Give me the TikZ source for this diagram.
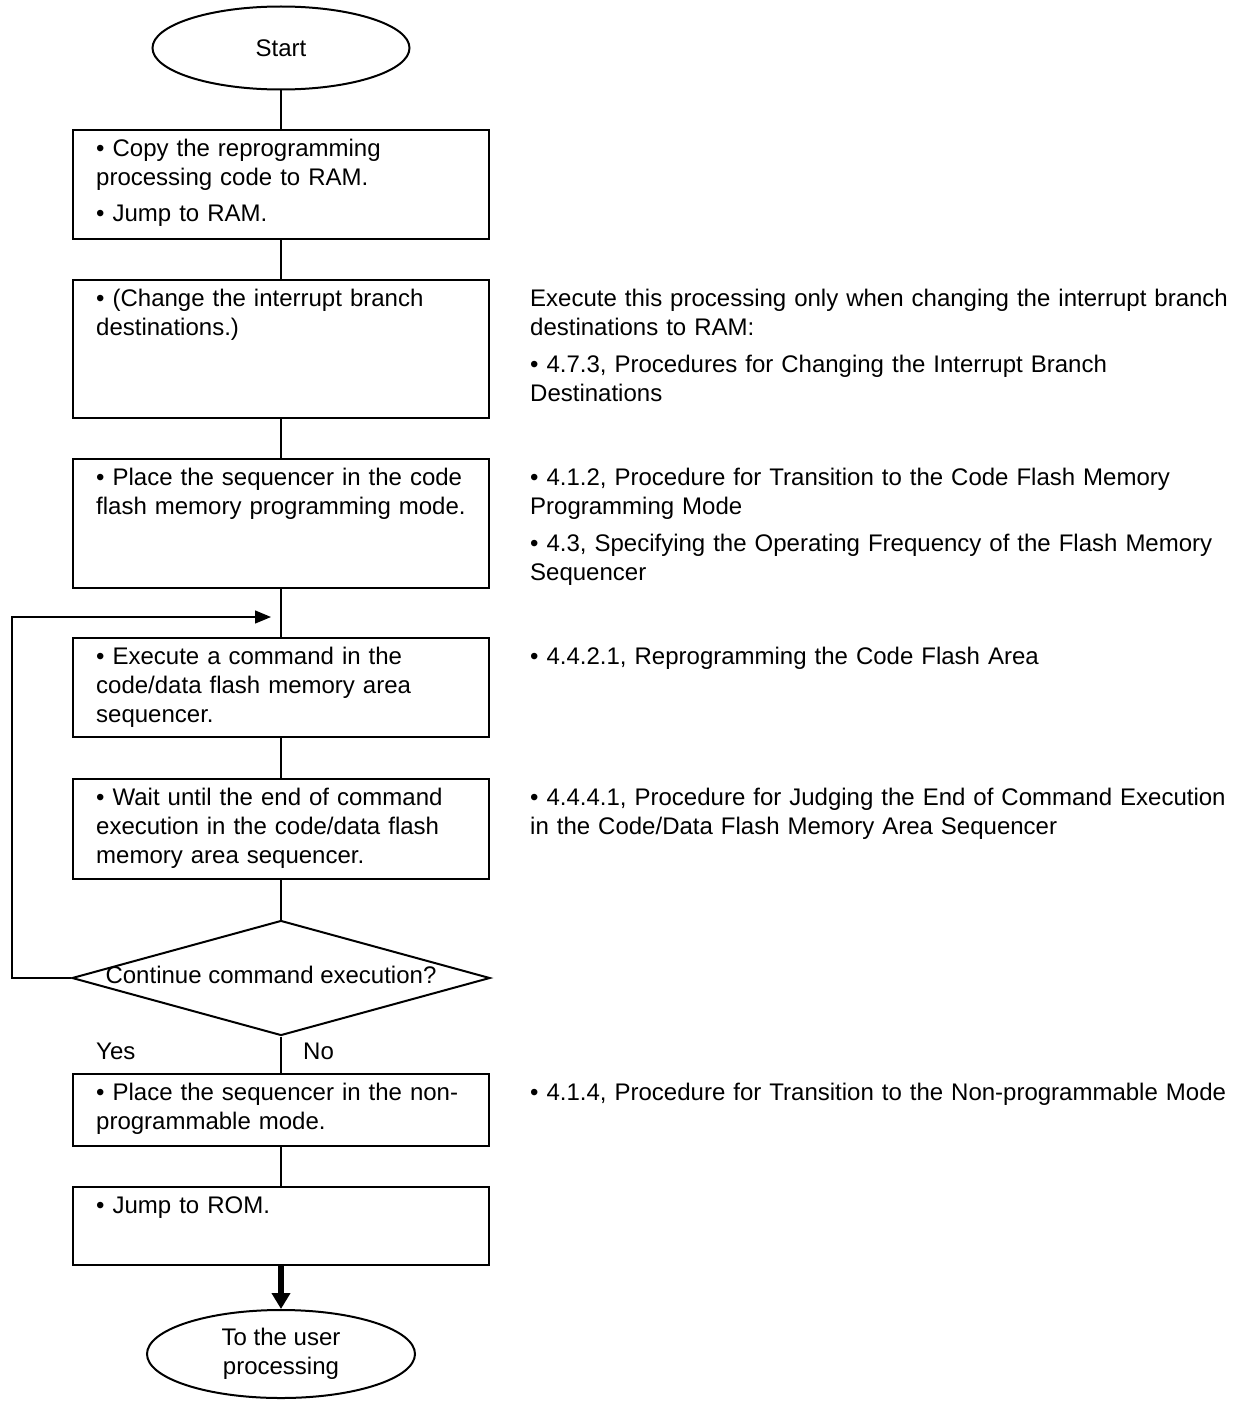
\documentclass[tikz,border=0pt]{standalone}
\usepackage{fontspec}
\setmainfont{Liberation Sans}
\usetikzlibrary{shapes.geometric,arrows.meta}
\begin{document}
\begin{tikzpicture}[x=1pt,y=-1pt,
  every node/.style={font=\fontsize{24}{29}\selectfont},
  stepbox/.style={draw,line width=2pt,rectangle,minimum width=416pt,inner sep=0pt,anchor=north},
  boxtext/.style={anchor=north west,inner sep=0pt,text width=395pt,align=left},
  note/.style={anchor=north west,inner sep=0pt,text width=705pt,align=left},
  terminal/.style={draw,line width=2pt,ellipse,inner sep=0pt,align=center},
  decision/.style={draw,line width=2pt,diamond,inner sep=0pt,minimum width=418pt,minimum height=115pt},
  flow/.style={line width=2pt},
  loopline/.style={line width=1.3pt,-{Triangle[length=16pt,width=13pt]}},
  exitarrow/.style={line width=6pt,-{Triangle[length=16pt,width=18pt]}}]

% page area
\fill[white] (0,0) rectangle (1239,1402);
\useasboundingbox (0,0) rectangle (1239,1402);

% terminals
\node[terminal,minimum width=257pt,minimum height=83pt] (start) at (281,48) {Start};
\node[terminal,minimum width=268pt,minimum height=88pt] (finish) at (281,1354) {To the user\\processing};

% process boxes
\node[stepbox,minimum height=109pt] (b1) at (281,129) {};
\node[stepbox,minimum height=138pt] (b2) at (281,279) {};
\node[stepbox,minimum height=129pt] (b3) at (281,458) {};
\node[stepbox,minimum height=99pt]  (b4) at (281,637) {};
\node[stepbox,minimum height=100pt] (b5) at (281,778) {};
\node[decision] (dec) at (281,978) {};
\node[stepbox,minimum height=72pt]  (b6) at (281,1073) {};
\node[stepbox,minimum height=78pt]  (b7) at (281,1186) {};

% box contents
\node[boxtext] (b1t) at ([xshift=24pt,yshift=-6.7pt]b1.north west)
  {\strut• Copy the reprogramming\\processing code to RAM.\\[7pt]• Jump to RAM.};
\node[boxtext] (b2t) at ([xshift=24pt,yshift=-6.7pt]b2.north west)
  {\strut• (Change the interrupt branch\\destinations.)};
\node[boxtext] (b3t) at ([xshift=24pt,yshift=-6.7pt]b3.north west)
  {\strut• Place the sequencer in the code\\flash memory programming mode.};
\node[boxtext] (b4t) at ([xshift=24pt,yshift=-6.7pt]b4.north west)
  {\strut• Execute a command in the\\code/data flash memory area\\sequencer.};
\node[boxtext] (b5t) at ([xshift=24pt,yshift=-6.7pt]b5.north west)
  {\strut• Wait until the end of command\\execution in the code/data flash\\memory area sequencer.};
\node[anchor=base] (dect) at (271,983) {Continue command execution?};
\node[boxtext] (b6t) at ([xshift=24pt,yshift=-6.7pt]b6.north west)
  {\strut• Place the sequencer in the non-\\programmable mode.};
\node[boxtext] (b7t) at ([xshift=24pt,yshift=-6.7pt]b7.north west)
  {\strut• Jump to ROM.};

% branch labels
\node[anchor=base west,inner sep=0pt] (yes) at (96,1059) {Yes};
\node[anchor=base west,inner sep=0pt] (no) at (303,1059) {No};

% references to the related procedures
\node[note] (n2) at (530,285.7)
  {\strut Execute this processing only when changing the interrupt branch\\destinations to RAM:\\[8pt]• 4.7.3, Procedures for Changing the Interrupt Branch\\Destinations};
\node[note] (n3) at (530,464.7)
  {\strut• 4.1.2, Procedure for Transition to the Code Flash Memory\\Programming Mode\\[8pt]• 4.3, Specifying the Operating Frequency of the Flash Memory\\Sequencer};
\node[note] (n4) at (530,643.7)
  {\strut• 4.4.2.1, Reprogramming the Code Flash Area};
\node[note] (n5) at (530,784.7)
  {\strut• 4.4.4.1, Procedure for Judging the End of Command Execution\\in the Code/Data Flash Memory Area Sequencer};
\node[note] (n6) at (530,1079.7)
  {\strut• 4.1.4, Procedure for Transition to the Non-programmable Mode};

% connectors
\draw[flow] (start.south) -- (b1.north);
\draw[flow] (b1.south) -- (b2.north);
\draw[flow] (b2.south) -- (b3.north);
\draw[flow] (b3.south) -- (b4.north);
\draw[flow] (b4.south) -- (b5.north);
\draw[flow] (b5.south) -- (dec.north);
\draw[flow] (dec.south) -- (b6.north);
\draw[flow] (b6.south) -- (b7.north);
\draw[exitarrow] (b7.south) -- (finish.north);

% loop back for further commands
\coordinate (loopcorner) at (12,978);
\coordinate (loopin) at (271,617);
\draw[loopline] (dec.west) -- (loopcorner) |- (loopin);

\end{tikzpicture}
\end{document}
